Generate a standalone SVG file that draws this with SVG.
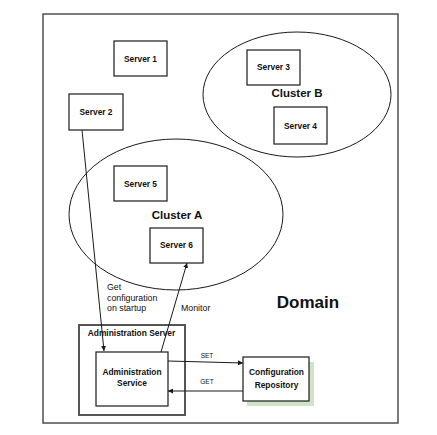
<svg xmlns="http://www.w3.org/2000/svg" width="437" height="435" viewBox="0 0 437 435">
<defs>
<style>
.box{fill:#fff;stroke:#1a1a1a;stroke-width:1.2}
.ell{fill:none;stroke:#1a1a1a;stroke-width:1}
.t{font-family:"Liberation Sans",Arial,sans-serif;fill:#111;text-anchor:middle}
.sv{font-size:8.4px;font-weight:bold}
.lbl{font-size:8.8px;text-anchor:start}
.small{font-size:6.5px}
.con{fill:none;stroke:#1a1a1a;stroke-width:1}
</style>
<marker id="ah" viewBox="0 0 10 10" refX="10" refY="5" markerWidth="5" markerHeight="5" orient="auto" markerUnits="userSpaceOnUse">
<path d="M0,0 L10,5 L0,10 z" fill="#1a1a1a"/>
</marker>
</defs>
<rect width="437" height="435" fill="#fff"/>
<g id="domain">
<rect x="43" y="14" width="355" height="409" fill="#fff" stroke="#444" stroke-width="1.4"/>
<text class="t" x="308" y="308" font-size="17" font-weight="bold">Domain</text>
</g>
<g id="clusterB">
<ellipse class="ell" cx="297" cy="94.5" rx="94" ry="62.5"/>
<text class="t" x="297" y="97" font-size="11.5" font-weight="bold">Cluster B</text>
</g>
<g id="clusterA">
<ellipse class="ell" cx="176" cy="214.5" rx="107" ry="75.5"/>
<text class="t" x="177" y="219" font-size="11.5" font-weight="bold">Cluster A</text>
</g>
<g id="server1">
<rect class="box" x="114" y="41" width="53" height="35"/>
<text class="t sv" x="140.5" y="61.5">Server 1</text>
</g>
<g id="server2">
<rect class="box" x="69" y="94" width="54" height="36"/>
<text class="t sv" x="96" y="115">Server 2</text>
</g>
<g id="server3">
<rect class="box" x="247" y="50" width="53" height="35"/>
<text class="t sv" x="273.5" y="70">Server 3</text>
</g>
<g id="server4">
<rect class="box" x="274" y="107" width="53" height="37"/>
<text class="t sv" x="300.5" y="128.5">Server 4</text>
</g>
<g id="server5">
<rect class="box" x="114" y="166" width="53" height="35"/>
<text class="t sv" x="140.5" y="186.5">Server 5</text>
</g>
<g id="server6">
<rect class="box" x="150" y="228" width="53" height="35"/>
<text class="t sv" x="176.5" y="248">Server 6</text>
</g>
<g id="adminServer">
<rect x="79" y="325" width="106" height="90" fill="#fff" stroke="#555" stroke-width="2"/>
<text class="t sv" x="131.5" y="336" font-size="8.7">Administration Server</text>
</g>
<g id="adminService">
<rect class="box" x="96" y="352" width="72" height="54"/>
<text class="t sv" x="132" y="375" font-size="8.7">Administration</text>
<text class="t sv" x="132" y="386" font-size="8.7">Service</text>
</g>
<g id="configRepo">
<rect x="247" y="362" width="67" height="44" fill="#cfe3c6"/>
<rect class="box" x="243" y="357" width="66" height="44"/>
<text class="t sv" x="276.5" y="375" font-size="8.7">Configuration</text>
<text class="t sv" x="276.5" y="387.5" font-size="8.7">Repository</text>
</g>
<g id="connectors">
<line class="con" x1="82" y1="130" x2="104" y2="351" marker-end="url(#ah)"/>
<line class="con" x1="161" y1="352" x2="187" y2="263" marker-end="url(#ah)"/>
<line class="con" x1="168" y1="361" x2="243" y2="363" stroke="#333" stroke-width="1.3" marker-end="url(#ah)"/>
<line class="con" x1="243" y1="391" x2="168" y2="391" stroke="#333" stroke-width="1.3" marker-end="url(#ah)"/>
<text class="t lbl" x="107" y="290">Get</text>
<text class="t lbl" x="107" y="301">configuration</text>
<text class="t lbl" x="107" y="311">on startup</text>
<text class="t lbl" x="181" y="311" font-size="8.4">Monitor</text>
<text class="t small" x="207" y="358">SET</text>
<text class="t small" x="207" y="384">GET</text>
</g>
</svg>
